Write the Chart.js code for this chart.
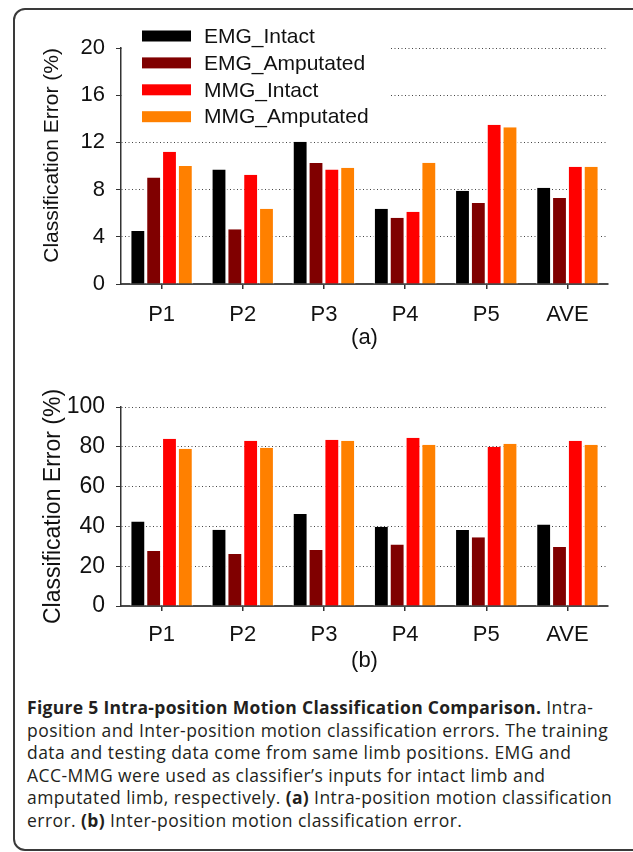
<!DOCTYPE html>
<html lang="en">
<head>
    <meta charset="UTF-8">
    <title>Figure 5</title>
    <script src="https://cdn.jsdelivr.net/npm/chart.js"></script>
    <style>
        html, body { margin: 0; padding: 0; background: #fff; }
        body { width: 633px; height: 852px; position: relative; overflow: hidden; }
        .frame { position: absolute; left: 13px; top: 8px; width: 700px; height: 839px; border: 2px solid #3a3a3a; border-radius: 12px; }
        .box { position: absolute; left: 0; width: 633px; }
        #boxA { top: 0; height: 360px; }
        #boxB { top: 380px; height: 300px; }
        #caption { position: absolute; left: 27px; top: 696px; font-family: "Open Sans", sans-serif; font-size: 17.5px; letter-spacing: 0.45px; line-height: 22.6px; color: #231f20; white-space: nowrap; }
        #caption b { font-weight: 700; letter-spacing: 0.3px; }
    </style>
</head>
<body>
    <div class="frame"></div>
    <div class="box" id="boxA"><canvas id="chartA"></canvas></div>
    <div class="box" id="boxB"><canvas id="chartB"></canvas></div>
    <div id="caption"><b>Figure 5 Intra-position Motion Classification Comparison.</b> Intra-<br>position and Inter-position motion classification errors. The training<br>data and testing data come from same limb positions. EMG and<br>ACC-MMG were used as classifier’s inputs for intact limb and<br>amputated limb, respectively. <b>(a)</b> Intra-position motion classification<br>error. <b>(b)</b> Inter-position motion classification error.</div>

<script>
    // data
    const positions = ["P1", "P2", "P3", "P4", "P5", "AVE"];
    const seriesNames = ["EMG_Intact", "EMG_Amputated", "MMG_Intact", "MMG_Amputated"];
    const seriesColors = ["#000000", "#800000", "#ff0000", "#ff8000"];

    // (a) intra-position
    const intraEmgIntact = [4.5, 9.7, 12.05, 6.38, 7.9, 8.15];
    const intraEmgAmputated = [9.03, 4.65, 10.25, 5.62, 6.86, 7.29];
    const intraMmgIntact = [11.2, 9.26, 9.7, 6.13, 13.5, 9.94];
    const intraMmgAmputated = [10.0, 6.38, 9.85, 10.28, 13.28, 9.94];
    const ticksA = [0, 4, 8, 12, 16, 20];

    // (b) inter-position
    const interEmgIntact = [42.5, 38.3, 46.2, 39.8, 38.2, 41.0];
    const interEmgAmputated = [27.7, 26.1, 28.2, 30.9, 34.5, 29.6];
    const interMmgIntact = [84.0, 83.0, 83.5, 84.5, 80.0, 83.0];
    const interMmgAmputated = [79.0, 79.5, 83.0, 81.0, 81.5, 81.0];
    const ticksB = [0, 20, 40, 60, 80, 100];

    Chart.defaults.font.family = '"Liberation Sans", Arial, sans-serif';
    Chart.defaults.color = '#111';

    function makeDatasets(values) {
        return values.map(function (v, i) {
            return {
                label: seriesNames[i],
                data: v,
                backgroundColor: seriesColors[i],
                borderColor: '#ffffff',
                borderWidth: { top: 0, bottom: 0, left: 1.5, right: 1.5 },
                borderSkipped: 'bottom',
                barPercentage: 1.0,
                categoryPercentage: 0.78
            };
        });
    }

    // legend drawn inside the plot, on a white box
    const innerLegend = {
        id: 'innerLegend',
        afterDatasetsDraw(chart, args, opts) {
            if (!opts.show) return;
            const ctx = chart.ctx;
            const area = chart.chartArea;
            ctx.save();
            ctx.fillStyle = '#fff';
            ctx.fillRect(area.left + 1, 20, 389 - area.left - 1, 110);
            ctx.font = '21px "Liberation Sans", Arial, sans-serif';
            ctx.textBaseline = 'middle';
            chart.data.datasets.forEach(function (ds, i) {
                const y = 36 + i * 26.9;
                ctx.fillStyle = ds.backgroundColor;
                ctx.fillRect(142, y - 5.5, 49, 11);
                ctx.fillStyle = '#111';
                ctx.fillText(ds.label, 204, y + 1);
            });
            ctx.restore();
        }
    };

    function makeChart(id, datasets, tickValues, maxY, label, opts) {
        const ctx = document.getElementById(id).getContext('2d');
        return new Chart(ctx, {
            type: 'bar',
            data: { labels: positions, datasets: datasets },
            plugins: [innerLegend],
            options: {
                responsive: true,
                maintainAspectRatio: false,
                animation: false,
                layout: { padding: { left: 30, right: 25, top: opts.top, bottom: 0 } },
                plugins: {
                    legend: { display: false },
                    tooltip: { enabled: false },
                    innerLegend: { show: opts.legend }
                },
                scales: {
                    x: {
                        grid: { offset: false, drawOnChartArea: false, drawTicks: true, tickLength: 5, color: '#333', lineWidth: 1.5 },
                        border: { color: '#4a4a4a', width: 2 },
                        ticks: { font: { size: 22 }, color: '#111', padding: opts.xPad },
                        title: { display: true, text: label, font: { size: 22 }, color: '#111', padding: { top: 0, bottom: opts.titleBottom } },
                        afterFit(scale) { scale.height = opts.xHeight; }
                    },
                    y: {
                        min: 0,
                        max: maxY,
                        afterBuildTicks(scale) { scale.ticks = tickValues.map(function (v) { return { value: v }; }); },
                        grid: { color: '#444', lineWidth: 1, drawTicks: true, tickLength: 5, tickColor: '#333', tickBorderDash: [] },
                        border: { color: '#333', width: 1.5, dash: [1, 2.5] },
                        ticks: { font: { size: opts.yTickSize }, color: '#111', padding: 11 },
                        title: { display: true, text: 'Classification Error (%)', align: opts.titleAlign, font: { size: opts.yTitleSize }, color: '#111', padding: { top: 10, bottom: 0 } },
                        afterFit(scale) { scale.width = 91; }
                    }
                }
            }
        });
    }

    makeChart('chartA', makeDatasets([intraEmgIntact, intraEmgAmputated, intraMmgIntact, intraMmgAmputated]),
        ticksA, 20, '(a)', { top: 48, xHeight: 76, xPad: 13, titleBottom: 9, legend: true, yTickSize: 22, yTitleSize: 21, titleAlign: 'end' });
    makeChart('chartB', makeDatasets([interEmgIntact, interEmgAmputated, interMmgIntact, interMmgAmputated]),
        ticksB, 100, '(b)', { top: 27, xHeight: 74, xPad: 11, titleBottom: 6, legend: false, yTickSize: 23, yTitleSize: 23, titleAlign: 'center' });
</script>
</body>
</html>
